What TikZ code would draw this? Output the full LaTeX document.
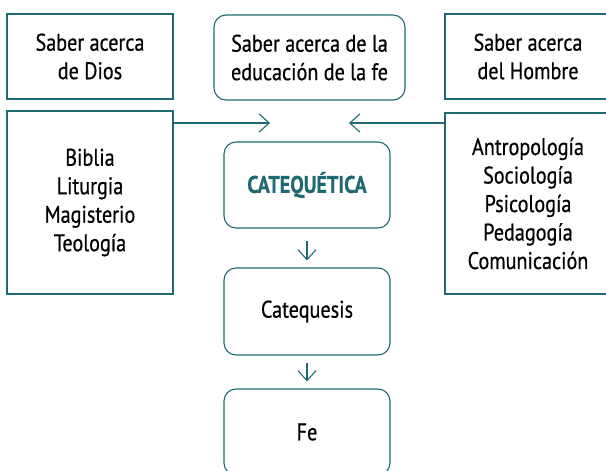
\documentclass[tikz,border=0pt]{standalone}
\usepackage{fontspec}
\setmainfont[FakeStretch=0.84,FakeBold=0.6]{PT Sans}
\usepackage{xcolor}
\usepackage{tikz}
\usetikzlibrary{arrows.meta,positioning,calc}
\definecolor{teal}{RGB}{31,106,114}
\tikzset{
  box/.style={draw=teal,line width=1.1pt,align=center,font=\fontsize{24}{28.5}\selectfont,minimum width=166pt,inner sep=4pt},
  rbox/.style={box,rounded corners=12pt},
  arr/.style={-{Straight Barb[length=10pt,width=18pt]},draw=teal,line width=1.1pt},
}
\begin{document}
\begin{tikzpicture}[x=1pt,y=-1pt]
\useasboundingbox (0,0) rectangle (606,471);
\clip (0,0) rectangle (606,471);
% top row
\node[box,minimum height=85pt] (dios) at (90,56.5) {Saber acerca\\de Dios};
\node[rbox,minimum width=191pt,minimum height=85pt] (educ) at (309.5,57.5) {Saber acerca de la\\educación de la fe};
\node[box,minimum height=85pt] (hombre) at (528,56.5) {Saber acerca\\del Hombre};
% side boxes
\node[box,minimum height=183pt] (bibl) at (90,202.5) {Biblia\\Liturgia\\Magisterio\\Teología};
\node[box,minimum height=181pt] (cienc) at (528,203.5) {Antropología\\Sociología\\Psicología\\Pedagogía\\Comunicación};
% middle column
\node[rbox,minimum height=86pt,text=teal,font=\fontsize{24}{28.5}\selectfont\bfseries] (catq) at (307,185) {CATEQUÉTICA};
\node[rbox,minimum height=87pt] (catqs) at (307,311.5) {Catequesis};
\node[rbox,minimum height=86pt] (fe) at (307,432) {Fe};
\coordinate (ltip) at (270,123);
\coordinate (rtip) at (349,123);
\draw[arr] (bibl.east |- ltip) -- (ltip);
\draw[arr] (cienc.west |- rtip) -- (rtip);
\draw[arr,shorten <=12pt,shorten >=7pt] (catq.south) -- (catqs.north);
\draw[arr,shorten <=7pt,shorten >=7pt] (catqs.south) -- (fe.north);
\end{tikzpicture}
\end{document}
